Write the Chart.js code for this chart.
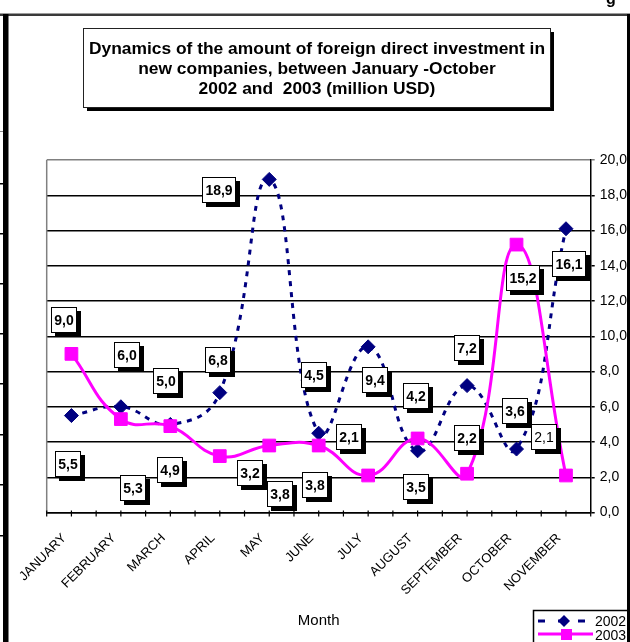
<!DOCTYPE html>
<html>
<head>
<meta charset="utf-8">
<script src="https://cdn.jsdelivr.net/npm/chart.js@4.4.0/dist/chart.umd.min.js"></script>
<style>
  html, body { margin: 0; padding: 0; background: #fff; }
  #wrap { width: 630px; height: 642px; }
</style>
</head>
<body>
<div id="wrap"><canvas id="fdiChart" width="630" height="642"></canvas></div>
<script>
// months on the x axis
const months = ['JANUARY', 'FEBRUARY', 'MARCH', 'APRIL', 'MAY', 'JUNE', 'JULY', 'AUGUST', 'SEPTEMBER', 'OCTOBER', 'NOVEMBER'];
// million USD, as printed in the data labels
const values2002 = [5.5, 6.0, 5.0, 6.8, 18.9, 4.5, 9.4, 3.5, 7.2, 3.6, 16.1];
const values2003 = [9.0, 5.3, 4.9, 3.2, 3.8, 3.8, 2.1, 4.2, 2.2, 15.2, 2.1];
const seriesNames = ['2002', '2003'];
const titleLines = [
    'Dynamics of the amount of foreign direct investment in',
    'new companies, between January -October',
    '2002 and  2003 (million USD)'
];
const axisTitle = 'Month';

// where each data label box sits, relative to its point (px)
const labelOffsets2002 = [[-3, 48], [6, -52], [-4, -43], [-2, -33], [-50, 11], [-5, -58], [7, 33], [-2, 36], [0, -38], [-2, -38], [3, 35]];
const labelOffsets2003 = [[-7, -34], [12, 69], [0, 44], [30, 17], [11, 48], [-4, 39], [-19, -38], [-2, -42], [0, -36], [6, 33], [-22, -38]];

const NAVY = '#000080';
const MAGENTA = '#ff00ff';
const FONT = '"Liberation Sans", Arial, Helvetica, sans-serif';

Chart.defaults.font.family = FONT;
Chart.defaults.color = '#000';

const fmt = v => v.toFixed(1).replace('.', ',');

// boxed data labels with a black drop shadow, like the Excel original
const boxLabels = {
    id: 'boxLabels',
    afterDatasetsDraw(chart) {
        const ctx = chart.ctx;
        ctx.save();
        chart.data.datasets.forEach((ds, di) => {
            const meta = chart.getDatasetMeta(di);
            meta.data.forEach((pt, i) => {
                const [dx, dy] = ds.labelOffsets[i];
                const text = fmt(ds.data[i]);
                const plain = ds.plainLabels && ds.plainLabels.includes(i);
                ctx.font = (plain ? '' : 'bold ') + '14px ' + FONT;
                const w = Math.round(ctx.measureText(text).width + 7);
                const h = 26;
                const cx = pt.x + dx, cy = pt.y + dy;
                const x = Math.round(cx - w / 2), y = Math.round(cy - h / 2);
                ctx.fillStyle = '#000';
                ctx.fillRect(x + 4, y + 4, w, h);
                ctx.fillStyle = '#fff';
                ctx.fillRect(x, y, w, h);
                ctx.strokeStyle = '#000';
                ctx.lineWidth = 1;
                ctx.strokeRect(x + 0.5, y + 0.5, w - 1, h - 1);
                ctx.fillStyle = '#000';
                ctx.textAlign = 'center';
                ctx.textBaseline = 'middle';
                ctx.fillText(text, x + w / 2, y + h / 2 + 1);
            });
        });
        ctx.restore();
    }
};

// plot border, category ticks, title box, legend and the outer frame
const decorations = {
    id: 'decorations',
    beforeDatasetsDraw(chart) {
        const ctx = chart.ctx;
        const { left, top, bottom } = chart.chartArea;
        ctx.save();
        ctx.strokeStyle = '#808080';
        ctx.lineWidth = 1.5;
        ctx.beginPath();
        ctx.moveTo(left, top);
        ctx.lineTo(left, bottom);
        ctx.stroke();
        ctx.restore();
    },
    afterDraw(chart) {
        const ctx = chart.ctx;
        const xs = chart.scales.x;
        const { bottom } = chart.chartArea;
        ctx.save();

        // tick marks at every category centre and boundary
        ctx.strokeStyle = '#000';
        ctx.lineWidth = 1.2;
        const half = (xs.getPixelForValue(1) - xs.getPixelForValue(0)) / 2;
        ctx.beginPath();
        for (let i = 0; i < months.length; i++) {
            const c = xs.getPixelForValue(i);
            [c - half, c, c + half].forEach(px => {
                ctx.moveTo(px, bottom - 2);
                ctx.lineTo(px, bottom + 4);
            });
        }
        ctx.stroke();

        // title box
        ctx.fillStyle = '#000';
        ctx.fillRect(87, 32, 467, 79);
        ctx.fillStyle = '#fff';
        ctx.fillRect(83, 28, 468, 80);
        ctx.strokeStyle = '#222';
        ctx.lineWidth = 1;
        ctx.strokeRect(83.5, 28.5, 467, 79);
        ctx.fillStyle = '#000';
        ctx.font = 'bold 17.4px ' + FONT;
        ctx.textAlign = 'center';
        ctx.textBaseline = 'middle';
        [49, 69.5, 89.5].forEach((y, i) => ctx.fillText(titleLines[i], 317, y));

        // legend
        const d0 = chart.data.datasets[0], d1 = chart.data.datasets[1];
        ctx.fillStyle = '#fff';
        ctx.fillRect(533, 610, 100, 40);
        ctx.strokeStyle = '#000';
        ctx.lineWidth = 1.5;
        ctx.strokeRect(533.5, 610.5, 100, 40);
        ctx.strokeStyle = d0.borderColor;
        ctx.lineWidth = 3;
        ctx.setLineDash([7, 13]);
        ctx.beginPath();
        ctx.moveTo(538, 621);
        ctx.lineTo(592, 621);
        ctx.stroke();
        ctx.setLineDash([]);
        ctx.fillStyle = d0.pointBackgroundColor;
        ctx.beginPath();
        ctx.moveTo(564, 615); ctx.lineTo(570, 621); ctx.lineTo(564, 627); ctx.lineTo(558, 621);
        ctx.closePath();
        ctx.fill();
        ctx.strokeStyle = d1.borderColor;
        ctx.beginPath();
        ctx.moveTo(538, 634);
        ctx.lineTo(593, 634);
        ctx.stroke();
        ctx.fillStyle = d1.pointBackgroundColor;
        ctx.fillRect(561, 629, 11, 11);
        ctx.fillStyle = '#000';
        ctx.font = '14px ' + FONT;
        ctx.textAlign = 'left';
        ctx.fillText(d0.label, 595, 622);
        ctx.fillText(d1.label, 595, 636);

        // outer frame of the embedded chart
        ctx.fillStyle = '#3a3a3a';
        ctx.fillRect(0, 13.5, 630, 2.5);
        ctx.fillStyle = '#000';
        ctx.fillRect(3, 14, 5.5, 628);
        ctx.fillRect(627, 14, 3, 628);
        ctx.fillStyle = '#888';
        ctx.fillRect(0, 131, 3, 1);
        ctx.fillStyle = '#000';
        [183, 233, 283, 333, 383, 434, 484, 535].forEach(y => ctx.fillRect(0, y, 3, 1.5));

        // clipped heading of the page above
        ctx.font = 'bold 16px ' + FONT;
        ctx.textBaseline = 'alphabetic';
        ctx.fillText('g', 606, 4);
        ctx.restore();
    }
};

const ctx = document.getElementById('fdiChart').getContext('2d');
new Chart(ctx, {
    type: 'line',
    data: {
        labels: months,
        datasets: [{
            label: seriesNames[0],
            data: values2002,
            labelOffsets: labelOffsets2002,
            borderColor: NAVY,
            backgroundColor: NAVY,
            pointBackgroundColor: NAVY,
            pointBorderColor: NAVY,
            borderWidth: 3,
            borderDash: [5, 6],
            pointStyle: 'rectRot',
            pointRadius: 7,
            pointBorderWidth: 1,
            tension: 0.45,
            fill: false,
            order: 2
        }, {
            label: seriesNames[1],
            data: values2003,
            labelOffsets: labelOffsets2003,
            plainLabels: [10],
            borderColor: MAGENTA,
            backgroundColor: MAGENTA,
            pointBackgroundColor: MAGENTA,
            pointBorderColor: MAGENTA,
            borderWidth: 3,
            pointStyle: 'rect',
            pointRadius: 9,
            pointBorderWidth: 1,
            tension: 0.45,
            fill: false,
            order: 1
        }]
    },
    options: {
        responsive: false,
        animation: false,
        layout: { padding: { top: 160, left: 46.7, right: 0, bottom: 0 } },
        plugins: {
            legend: { display: false },
            title: { display: false },
            tooltip: { enabled: false }
        },
        scales: {
            x: {
                offset: true,
                grid: { display: false, drawTicks: false, offset: true },
                border: { display: true, color: '#000', width: 1.5 },
                ticks: {
                    autoSkip: false,
                    maxRotation: 45,
                    minRotation: 45,
                    padding: 18,
                    labelOffset: -7,
                    font: { size: 13 },
                    color: '#000'
                },
                title: {
                    display: true,
                    text: axisTitle,
                    font: { size: 15 },
                    color: '#000',
                    padding: { top: 0, bottom: 12 }
                },
                afterFit: s => { s.height = 129.5; }
            },
            y: {
                position: 'right',
                min: 0,
                max: 20,
                grid: {
                    color: c => (c.tick && c.tick.value === 20 ? '#808080' : '#000'),
                    lineWidth: 1.5,
                    tickLength: 4
                },
                border: { display: true, color: '#000', width: 1.5 },
                ticks: {
                    stepSize: 2,
                    padding: 5,
                    font: { size: 14 },
                    color: '#000',
                    callback: v => fmt(v)
                },
                afterFit: s => { s.width = 39.3; }
            }
        }
    },
    plugins: [boxLabels, decorations]
});
</script>
</body>
</html>
